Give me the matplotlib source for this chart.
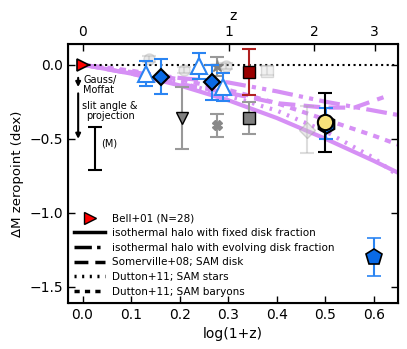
import numpy as np
import matplotlib
matplotlib.use("Agg")
from matplotlib import pyplot as plt
from matplotlib.lines import Line2D

# model curves, x = log(1+z), y = zeropoint offset
model_x = [0.0, 0.1, 0.2, 0.3, 0.4, 0.5, 0.6, 0.65]
fixed_disk = [0.0, -0.06, -0.14, -0.24, -0.36, -0.50, -0.65, -0.73]
evolving_disk = [0.0, -0.05, -0.09, -0.12, -0.18, -0.25, -0.31, -0.34]
somerville_x = [0.0, 0.1, 0.2, 0.3, 0.4, 0.5, 0.56, 0.62]
somerville = [0.0, -0.06, -0.13, -0.19, -0.26, -0.29, -0.29, -0.22]
dutton_stars = [0.0, -0.05, -0.12, -0.21, -0.31, -0.45, -0.63, -0.75]
dutton_baryons = [0.0, -0.04, -0.10, -0.17, -0.26, -0.37, -0.48, -0.54]

# data points
tri_x = [0.131, 0.239, 0.289]
tri_y = [-0.06, -0.01, -0.15]
tri_err = [0.085, 0.09, 0.095]
dia_x = [0.162, 0.267]
dia_y = [-0.08, -0.12]
dia_err = [0.12, 0.12]
faint_circ_x = [0.137, 0.21, 0.296]
faint_circ_y = [0.04, -0.035, -0.01]
redsq = (0.342, -0.05, 0.155)
graysq = (0.342, -0.36, 0.11)
faintsq = (0.381, -0.04, 0.03)
graytri = (0.204, -0.36, 0.21)
grayx = (0.278, -0.41, 0.08)
graystar = (0.276, -0.01, 0.065)
faintdia = (0.462, -0.44, 0.16)
yellow = (0.50, -0.39, 0.20)
bluehex = (0.502, -0.40, 0.105)
pent = (0.601, -1.30, 0.13)
bell = (0.0, 0.0)
sys_bar = (0.0255, -0.565, 0.147)

z_ticks = [0, 1, 2, 3]

purple = "#d690f5"
blue = "#0a6ae6"
eblue = "#2a84f2"

fig = plt.figure(figsize=(4.07, 3.49), dpi=100)
ax = fig.add_axes([0.167, 0.132, 0.811, 0.742])

ax.plot([0, 0.65], [0, 0], "k:", lw=1.5, zorder=2)

ax.plot(model_x, fixed_disk, color=purple, lw=3, zorder=1)
ax.plot(model_x, evolving_disk, color=purple, lw=3, dashes=[5, 1.5, 1, 1.5, 1, 1.5], zorder=1)
ax.plot(somerville_x, somerville, color=purple, lw=3, dashes=[4, 2], zorder=1)
ax.plot(model_x, dutton_stars, color=purple, lw=3, dashes=[0.6, 1.6], zorder=1)
ax.plot(model_x, dutton_baryons, color=purple, lw=3, dashes=[1.5, 1.5], zorder=1)

eb = dict(capsize=5, capthick=1.5, elinewidth=1.5, ls="none")

# faint points
ax.errorbar(faint_circ_x, faint_circ_y, yerr=0.02, fmt="o", ms=8, mfc="#bbbbbb",
            mec="#999999", ecolor="#999999", alpha=0.3, **eb)
ax.errorbar(faintsq[0], faintsq[1], yerr=faintsq[2], fmt="s", ms=8, mfc="#dddddd",
            mec="#aaaaaa", ecolor="#aaaaaa", alpha=0.4, **eb)
ax.errorbar(faintdia[0], faintdia[1], yerr=faintdia[2], fmt="D", ms=8, mfc="#cccccc",
            mec="#999999", ecolor="#aaaaaa", alpha=0.4, **eb)

# gray points
ax.errorbar(graytri[0], graytri[1], yerr=graytri[2], fmt="v", ms=9, mfc="#808080",
            mec="k", ecolor="#999999", zorder=4, **eb)
ax.errorbar(grayx[0], grayx[1], yerr=grayx[2], fmt="X", ms=7, mfc="#888888",
            mec="#888888", ecolor="#999999", zorder=4, **eb)
ax.errorbar(graystar[0], graystar[1], yerr=graystar[2], fmt="*", ms=9, mfc="#808080",
            mec="#808080", ecolor="#999999", zorder=4, **eb)
ax.errorbar(graysq[0], graysq[1], yerr=graysq[2], fmt="s", ms=8, mfc="#808080",
            mec="k", ecolor="#999999", zorder=4, **eb)
ax.errorbar(redsq[0], redsq[1], yerr=redsq[2], fmt="s", ms=8, mfc="#990000",
            mec="k", ecolor="#b02020", zorder=5, **eb)

# blue points
ax.errorbar(tri_x, tri_y, yerr=tri_err, fmt="^", ms=11, mfc="white", mec=eblue,
            mew=1.5, ecolor=eblue, zorder=6, **eb)
ax.errorbar(dia_x, dia_y, yerr=dia_err, fmt="D", ms=8, mfc=blue, mec="k",
            mew=1.5, ecolor=eblue, zorder=7, **eb)
ax.errorbar(bluehex[0], bluehex[1], yerr=bluehex[2], fmt="h", ms=13, mfc=blue,
            mec="k", mew=1.5, ecolor=eblue, zorder=6, **eb)
ax.errorbar(yellow[0], yellow[1], yerr=yellow[2], fmt="o", ms=11, mfc="#f8e27a",
            mec="k", mew=1.5, ecolor="k", zorder=7, **eb)
ax.errorbar(pent[0], pent[1], yerr=pent[2], fmt="p", ms=12, mfc=blue, mec="k",
            mew=1.2, ecolor=eblue, zorder=7, **eb)

# Bell+01
ax.plot(bell[0], bell[1], ">", ms=9, mfc="red", mec="k", mew=1.2, zorder=8)

# systematics annotations
ax.annotate("", xy=(-0.009, -0.17), xytext=(-0.009, -0.07),
            arrowprops=dict(arrowstyle="-|>", color="k", lw=1.5, mutation_scale=7))
ax.annotate("", xy=(-0.009, -0.52), xytext=(-0.009, -0.175),
            arrowprops=dict(arrowstyle="-|>", color="k", lw=1.5, mutation_scale=7))
ax.text(0.001, -0.07, "Gauss/\nMoffat", fontsize=7, va="top", ha="left", linespacing=1.0)
ax.text(0.057, -0.245, "slit angle &\nprojection", fontsize=7, va="top", ha="center",
        linespacing=1.0)
ax.errorbar(sys_bar[0], sys_bar[1], yerr=sys_bar[2], fmt="none", ecolor="k", **eb)
ax.text(0.038, -0.53, "(M)", fontsize=7, va="center", ha="left")

ax.set_xlim(-0.03, 0.65)
ax.set_ylim(-1.61, 0.14)
ax.set_xticks([0.0, 0.1, 0.2, 0.3, 0.4, 0.5, 0.6])
ax.set_yticks([0.0, -0.5, -1.0, -1.5])
ax.tick_params(direction="in", right=True, labelsize=10, width=1, length=5)
ax.set_xlabel("log(1+z)", fontsize=10)
ax.set_ylabel("ΔM zeropoint (dex)", fontsize=9.5)
for s in ax.spines.values():
    s.set_linewidth(1.5)

ax2 = ax.twiny()
ax2.set_xlim(ax.get_xlim())
ax2.set_xticks([np.log10(1 + z) for z in z_ticks])
ax2.set_xticklabels([str(z) for z in z_ticks])
ax2.tick_params(direction="in", labelsize=10, width=1, length=5)
ax2.set_xlabel("z", fontsize=10)

handles = [
    Line2D([], [], ls="none", marker=">", ms=9, mfc="red", mec="k"),
    Line2D([], [], color="k", lw=2.5),
    Line2D([], [], color="k", lw=2.5, dashes=[5, 1.5, 1, 1.5, 1, 1.5]),
    Line2D([], [], color="k", lw=2.5, dashes=[4, 2]),
    Line2D([], [], color="k", lw=2.5, dashes=[0.6, 1.6]),
    Line2D([], [], color="k", lw=2.5, dashes=[1.5, 1.5]),
]
labels = ["Bell+01 (N=28)",
          "isothermal halo with fixed disk fraction",
          "isothermal halo with evolving disk fraction",
          "Somerville+08; SAM disk",
          "Dutton+11; SAM stars",
          "Dutton+11; SAM baryons"]
ax.legend(handles, labels, loc="lower left", frameon=False, fontsize=7.5,
          handlelength=3.0, labelspacing=0.45, borderaxespad=0.2, handletextpad=0.6)

fig.savefig("out.png", dpi=100)
